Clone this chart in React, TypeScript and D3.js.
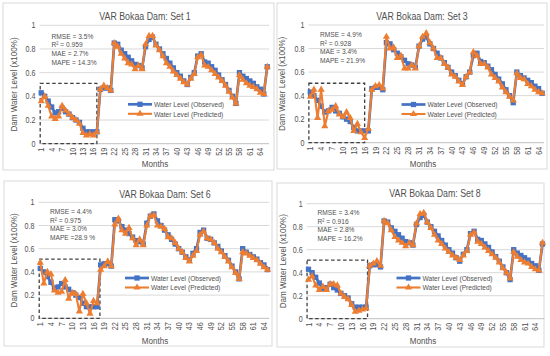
import React from "react";
import * as d3 from "d3";

const months: number[] = [
  1, 2, 3, 4, 5, 6, 7, 8, 9, 10, 11, 12, 13, 14, 15, 16, 17, 18, 19, 20, 21, 22,
  23, 24, 25, 26, 27, 28, 29, 30, 31, 32, 33, 34, 35, 36, 37, 38, 39, 40, 41, 42,
  43, 44, 45, 46, 47, 48, 49, 50, 51, 52, 53, 54, 55, 56, 57, 58, 59, 60, 61, 62,
  63, 64, 65, 66,
];
const tickMonths: number[] = [1, 4, 7, 10, 13, 16, 19, 22, 25, 28, 31, 34, 37, 40, 43, 46, 49, 52, 55, 58, 61, 64];
const yTicks: number[] = [0, 0.2, 0.4, 0.6, 0.8, 1];
const yTickLabels: string[] = ["0", "0.2", "0.4", "0.6", "0.8", "1"];

const observed: number[] = [
  0.43, 0.40, 0.36, 0.31, 0.26, 0.27, 0.30, 0.27, 0.25, 0.22,
  0.20, 0.18, 0.13, 0.10, 0.10, 0.10, 0.10, 0.46, 0.47, 0.47,
  0.45, 0.85, 0.84, 0.79, 0.76, 0.73, 0.70, 0.67, 0.66, 0.64,
  0.82, 0.88, 0.90, 0.84, 0.80, 0.76, 0.72, 0.68, 0.64, 0.60,
  0.57, 0.53, 0.50, 0.56, 0.60, 0.74, 0.76, 0.69, 0.68, 0.65,
  0.62, 0.58, 0.54, 0.50, 0.45, 0.40, 0.34, 0.60, 0.57, 0.55,
  0.53, 0.51, 0.48, 0.46, 0.42, 0.65,
];
const predSet1: number[] = [
  0.36, 0.40, 0.32, 0.23, 0.21, 0.23, 0.32, 0.28, 0.25, 0.22,
  0.20, 0.17, 0.09, 0.07, 0.08, 0.07, 0.10, 0.46, 0.49, 0.47,
  0.45, 0.85, 0.82, 0.76, 0.72, 0.68, 0.67, 0.63, 0.66, 0.63,
  0.84, 0.91, 0.91, 0.83, 0.79, 0.74, 0.68, 0.65, 0.61, 0.58,
  0.55, 0.52, 0.50, 0.55, 0.59, 0.73, 0.75, 0.66, 0.65, 0.62,
  0.59, 0.56, 0.53, 0.49, 0.44, 0.39, 0.34, 0.58, 0.54, 0.51,
  0.49, 0.48, 0.46, 0.43, 0.42, 0.65,
];
const predSet3: number[] = [
  0.39, 0.45, 0.21, 0.45, 0.14, 0.27, 0.28, 0.31, 0.24, 0.22,
  0.26, 0.21, 0.10, 0.16, 0.09, 0.04, 0.12, 0.45, 0.48, 0.49,
  0.46, 0.90, 0.80, 0.81, 0.72, 0.74, 0.63, 0.63, 0.66, 0.63,
  0.82, 0.90, 0.93, 0.85, 0.80, 0.72, 0.72, 0.67, 0.64, 0.58,
  0.56, 0.52, 0.49, 0.56, 0.60, 0.77, 0.74, 0.67, 0.67, 0.64,
  0.58, 0.55, 0.52, 0.47, 0.43, 0.39, 0.36, 0.59, 0.55, 0.54,
  0.50, 0.48, 0.45, 0.43, 0.42,
];
const predSet6: number[] = [
  0.48, 0.30, 0.40, 0.38, 0.24, 0.22, 0.23, 0.33, 0.17, 0.22,
  0.21, 0.06, 0.21, 0.13, 0.04, 0.15, 0.13, 0.42, 0.45, 0.49,
  0.45, 0.81, 0.86, 0.76, 0.73, 0.78, 0.69, 0.63, 0.68, 0.63,
  0.80, 0.88, 0.89, 0.80, 0.79, 0.77, 0.70, 0.69, 0.65, 0.60,
  0.57, 0.52, 0.49, 0.54, 0.58, 0.72, 0.75, 0.69, 0.68, 0.65,
  0.60, 0.57, 0.53, 0.49, 0.44, 0.39, 0.34, 0.57, 0.56, 0.54,
  0.52, 0.50, 0.47, 0.44, 0.42,
];
const predSet8: number[] = [
  0.34, 0.37, 0.29, 0.25, 0.28, 0.25, 0.30, 0.30, 0.29, 0.22,
  0.19, 0.17, 0.12, 0.06, 0.07, 0.08, 0.09, 0.46, 0.48, 0.50,
  0.46, 0.85, 0.83, 0.77, 0.71, 0.68, 0.66, 0.63, 0.66, 0.64,
  0.83, 0.91, 0.92, 0.84, 0.79, 0.73, 0.68, 0.65, 0.61, 0.58,
  0.55, 0.53, 0.51, 0.55, 0.59, 0.73, 0.75, 0.67, 0.65, 0.62,
  0.59, 0.56, 0.53, 0.49, 0.44, 0.40, 0.35, 0.58, 0.54, 0.51,
  0.49, 0.48, 0.45, 0.43, 0.42, 0.66,
];

const titles: string[] = ["VAR Bokaa Dam: Set 1", "VAR Bokaa Dam: Set 3", "VAR Bokaa Dam: Set 6", "VAR Bokaa Dam: Set 8"];
const statsSet1: string[] = ["RMSE = 3.5%", "R\u00B2 = 0.959", "MAE = 2.7%", "MAPE = 14.3%"];
const statsSet3: string[] = ["RMSE = 4.9%", "R\u00B2 = 0.928", "MAE = 3.4%", "MAPE = 21.9%"];
const statsSet6: string[] = ["RMSE = 4.4%", "R\u00B2 = 0.975", "MAE = 3.0%", "MAPE =28.9 %"];
const statsSet8: string[] = ["RMSE = 3.4%", "R\u00B2 = 0.916", "MAE = 2.8%", "MAPE = 16.2%"];
const legendLabels: string[] = ["Water Level (Observed)", "Water Level (Predicted)"];

const BLUE = "#4472C4";
const ORANGE = "#ED7D31";
const TXT = "#505050";
const GRID = "#d9d9d9";
const FONT = "'Liberation Sans', Arial, sans-serif";
const SQX = 0.84;

type Cfg = {
  frame: [number, number, number, number];
  left: number; right: number; yTop: number; yBot: number; n: number;
  titleX: number; titleY: number;
  statsX: number; statsY: number;
  legX: number; legY: number;
  yTitleX: number; monthsX: number; monthsY: number;
  boxFrom: number; boxTo: number; boxTop: number;
};

const cfgs: Cfg[] = [
  { frame: [3, 3, 271, 167], left: 39.5, right: 269, yTop: 25.3, yBot: 143.7, n: 66,
    titleX: 145, titleY: 20, statsX: 51.5, statsY: 38.5, legX: 128, legY: 104.3,
    yTitleX: 17, monthsX: 155, monthsY: 166.5, boxFrom: 0.7, boxTo: 17, boxTop: 0.51 },
  { frame: [277, 3, 270, 166], left: 308.5, right: 544, yTop: 25, yBot: 142.7, n: 65,
    titleX: 422, titleY: 20, statsX: 320, statsY: 37, legX: 401.5, legY: 104.5,
    yTitleX: 285, monthsX: 423, monthsY: 166.5, boxFrom: 0.6, boxTo: 16, boxTop: 0.505 },
  { frame: [4, 181, 268, 165], left: 38.5, right: 269.3, yTop: 202.3, yBot: 318.3, n: 65,
    titleX: 165, titleY: 198, statsX: 50, statsY: 214, legX: 125, legY: 278,
    yTitleX: 17, monthsX: 155, monthsY: 343.5, boxFrom: 0.7, boxTo: 17.8, boxTop: 0.51 },
  { frame: [277, 183, 267, 164], left: 306.7, right: 544.3, yTop: 203.7, yBot: 318.7, n: 66,
    titleX: 435, titleY: 197, statsX: 317.5, statsY: 215, legX: 396.5, legY: 278,
    yTitleX: 286, monthsX: 423, monthsY: 344, boxFrom: 0.6, boxTo: 17.4, boxTop: 0.51 },
];

const squarePath = d3.symbol(d3.symbolSquare, 28)() as string;
const triPath = d3.symbol(d3.symbolTriangle, 22)() as string;

function NText({ x, y, rot, size, anchor, children }: { x: number; y: number; rot?: boolean; size: number; anchor?: string; children: React.ReactNode }) {
  const tr = `translate(${x},${y})${rot ? " rotate(-90)" : ""} scale(${SQX},1)`;
  return (
    <text transform={tr} fontSize={size} textAnchor={anchor || "start"}>{children}</text>
  );
}

function Panel({ cfg, title, stats, obs, pred }: { cfg: Cfg; title: string; stats: string[]; obs: number[]; pred: number[] }) {
  const w = (cfg.right - cfg.left) / cfg.n;
  const x = d3.scaleLinear().domain([1, cfg.n]).range([cfg.left + w / 2, cfg.right - w / 2]);
  const y = d3.scaleLinear().domain([0, 1]).range([cfg.yBot, cfg.yTop]);
  const mk = (arr: number[]) =>
    d3.line<number>().x((_, i) => x(months[i])).y((d) => y(d))(arr) as string;
  const [fx, fy, fw, fh] = cfg.frame;
  const midY = (cfg.yTop + cfg.yBot) / 2;
  return (
    <g fontFamily={FONT} fill={TXT}>
      <rect x={fx} y={fy} width={fw} height={fh} fill="#fff" stroke={GRID} strokeWidth={1} />
      {yTicks.map((t, i) => (
        <g key={i}>
          <line x1={cfg.left} x2={cfg.right} y1={y(t)} y2={y(t)} stroke={i === 0 ? "#bfbfbf" : GRID} strokeWidth={1} />
          <NText x={cfg.left - 4} y={y(t) + 3} size={8.5} anchor="end">{yTickLabels[i]}</NText>
        </g>
      ))}
      {tickMonths.map((m) => (
        <NText key={m} x={x(m) + 3} y={cfg.yBot + 4} rot size={8.6} anchor="end">{m}</NText>
      ))}
      <NText x={cfg.titleX} y={cfg.titleY} size={10.5} anchor="middle">{title}</NText>
      <NText x={cfg.yTitleX} y={midY} rot size={9.6} anchor="middle">Dam Water Level (x100%)</NText>
      <NText x={cfg.monthsX} y={cfg.monthsY} size={9.6} anchor="middle">Months</NText>
      {stats.map((s, i) => (
        <NText key={i} x={cfg.statsX} y={cfg.statsY + i * 8.7} size={7.9}>{s}</NText>
      ))}
      <rect x={x(cfg.boxFrom)} y={y(cfg.boxTop)} width={x(cfg.boxTo) - x(cfg.boxFrom)} height={y(0) - y(cfg.boxTop)}
        fill="none" stroke="#404040" strokeWidth={1.3} strokeDasharray="3.5,2.5" />
      <path d={mk(obs)} fill="none" stroke={BLUE} strokeWidth={2.7} strokeLinejoin="round" />
      {obs.map((d, i) => (
        <path key={i} d={squarePath} transform={`translate(${x(months[i])},${y(d)})`} fill={BLUE} />
      ))}
      <path d={mk(pred)} fill="none" stroke={ORANGE} strokeWidth={2.1} strokeLinejoin="round" />
      {pred.map((d, i) => (
        <path key={i} d={triPath} transform={`translate(${x(months[i])},${y(d)})`} fill={ORANGE} />
      ))}
      <g>
        <line x1={cfg.legX} x2={cfg.legX + 24} y1={cfg.legY} y2={cfg.legY} stroke={BLUE} strokeWidth={2.7} />
        <path d={squarePath} transform={`translate(${cfg.legX + 12},${cfg.legY})`} fill={BLUE} />
        <NText x={cfg.legX + 26} y={cfg.legY + 2.8} size={7.9}>{legendLabels[0]}</NText>
        <line x1={cfg.legX} x2={cfg.legX + 24} y1={cfg.legY + 9.5} y2={cfg.legY + 9.5} stroke={ORANGE} strokeWidth={2.1} />
        <path d={triPath} transform={`translate(${cfg.legX + 12},${cfg.legY + 9.5})`} fill={ORANGE} />
        <NText x={cfg.legX + 26} y={cfg.legY + 12.3} size={7.9}>{legendLabels[1]}</NText>
      </g>
    </g>
  );
}

export default function App() {
  const obs65 = observed.slice(0, 65);
  return (
    <svg width={550} height={356} style={{ position: "absolute", left: 0, top: 0, background: "#fff" }}>
      <rect x={0} y={0} width={550} height={356} fill="#fff" />
      <Panel cfg={cfgs[0]} title={titles[0]} stats={statsSet1} obs={observed} pred={predSet1} />
      <Panel cfg={cfgs[1]} title={titles[1]} stats={statsSet3} obs={obs65} pred={predSet3} />
      <Panel cfg={cfgs[2]} title={titles[2]} stats={statsSet6} obs={obs65} pred={predSet6} />
      <Panel cfg={cfgs[3]} title={titles[3]} stats={statsSet8} obs={observed} pred={predSet8} />
    </svg>
  );
}
